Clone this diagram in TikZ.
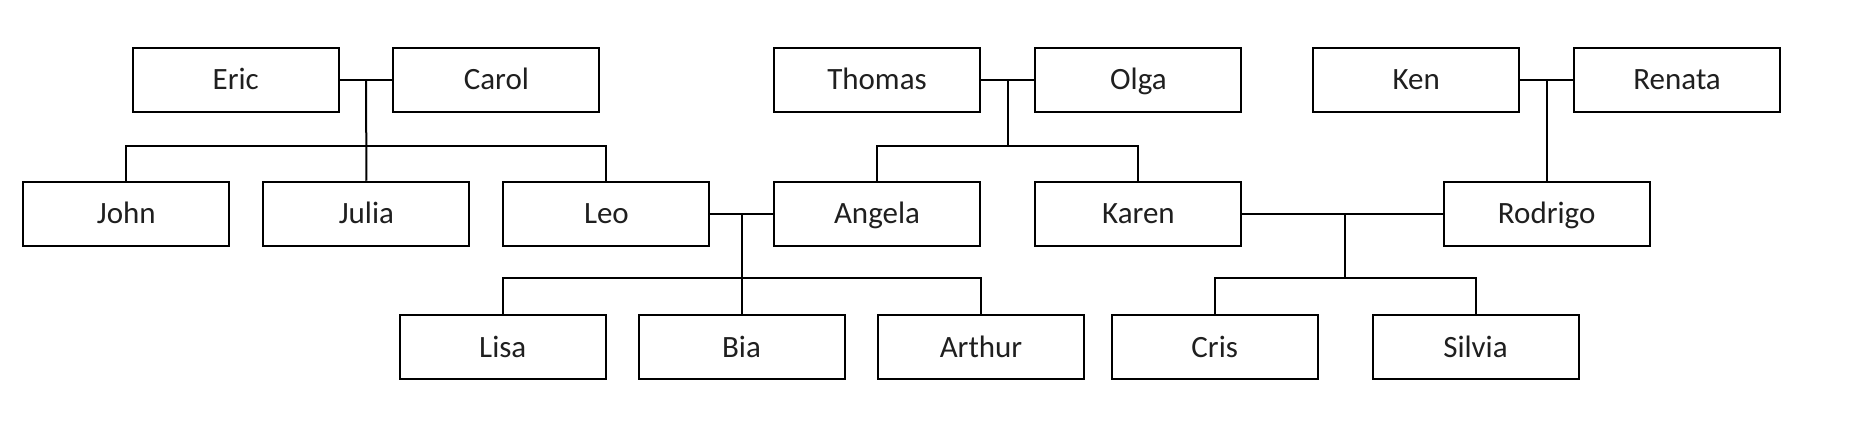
\documentclass[tikz,border=0pt]{standalone}
\usepackage{fontspec}
\setmainfont{Carlito}
\usetikzlibrary{calc}
\begin{document}
\begin{tikzpicture}[x=1pt,y=-1pt,
  person/.style={draw, line width=2pt, minimum width=206pt, minimum height=64.5pt, inner sep=0pt, text height=20pt, text depth=0pt, text=black!88, font=\fontsize{31}{36}\selectfont},
  link/.style={line width=2pt}]
\useasboundingbox (0,0) rectangle (1852,422);
% generation 1
\node[person] (eric)   at (235.75,80) {Eric};
\node[person] (carol)  at (496.4,80)  {Carol};
\node[person] (thomas) at (877,80)    {Thomas};
\node[person] (olga)   at (1138.4,80) {Olga};
\node[person] (ken)    at (1416.2,80) {Ken};
\node[person] (renata) at (1677.1,80) {Renata};
% generation 2
\node[person] (john)    at (126.4,214)  {John};
\node[person] (julia)   at (366.4,214)  {Julia};
\node[person] (leo)     at (606.4,214)  {Leo};
\node[person] (angela)  at (877,214)    {Angela};
\node[person] (karen)   at (1138.4,214) {Karen};
\node[person] (rodrigo) at (1546.7,214) {Rodrigo};
% generation 3
\node[person] (lisa)   at (502.8,347)  {Lisa};
\node[person] (bia)    at (741.5,347)  {Bia};
\node[person] (arthur) at (981,347)    {Arthur};
\node[person] (cris)   at (1214.7,347) {Cris};
\node[person] (silvia) at (1475.5,347) {Silvia};
% couples
\draw[link] (eric.east) -- (carol.west);
\draw[link] (thomas.east) -- (olga.west);
\draw[link] (ken.east) -- (renata.west);
\draw[link] (leo.east) -- (angela.west);
\draw[link] (karen.east) -- (rodrigo.west);
\coordinate (ec) at ($(eric.east)!0.5!(carol.west)$);
\coordinate (to) at ($(thomas.east)!0.5!(olga.west)$);
\coordinate (kr) at ($(ken.east)!0.5!(renata.west)$);
\coordinate (la) at ($(leo.east)!0.5!(angela.west)$);
\coordinate (kro) at (1345,214);
% Eric & Carol children
\draw[link] (john.north) -- ++(0,-35) -| (leo.north);
\draw[link] (ec) -- (julia.north);
% Thomas & Olga children
\draw[link] (angela.north) -- ++(0,-35) -| (karen.north);
\draw[link] (to) -- (to |- 0,146);
% Ken & Renata child
\draw[link] (kr) -- (kr |- rodrigo.north);
% Leo & Angela children
\draw[link] (lisa.north) -- ++(0,-36) -| (arthur.north);
\draw[link] (la) -- (la |- bia.north);
% Karen & Rodrigo children
\draw[link] (cris.north) -- ++(0,-36) -| (silvia.north);
\draw[link] (kro) -- (kro |- 0,278);
\end{tikzpicture}
\end{document}
